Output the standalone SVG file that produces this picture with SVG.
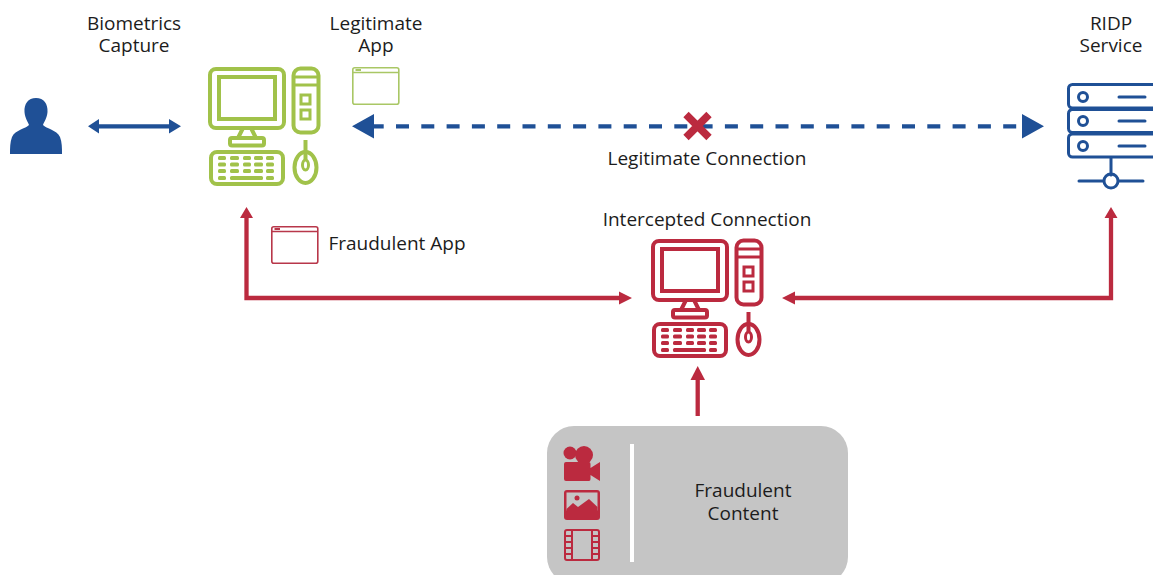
<svg xmlns="http://www.w3.org/2000/svg" xmlns:xlink="http://www.w3.org/1999/xlink" width="1153" height="575" viewBox="0 0 1153 575">
<style>
text{font-family:"Open Sans","Liberation Sans",sans-serif;font-size:19px;fill:#1c1c1c;text-anchor:middle}
.blue{stroke:#1f5096;fill:none;stroke-width:4.300}
.red{stroke:#bb2a3f;fill:none;stroke-width:4.300}
.bh{fill:#1f5096}
.rh{fill:#bb2a3f}
.o{fill:none;stroke:currentColor;stroke-width:4}
.t{fill:none;stroke:currentColor;stroke-width:3}
.n{fill:none;stroke:currentColor;stroke-width:2}
.f{fill:currentColor;stroke:none}
.w{fill:none;stroke:currentColor;stroke-width:1.600}
</style>
<defs>
<g id="computer">
<rect class="o" x="210" y="69" width="74" height="59" rx="6"/>
<rect class="o" x="219" y="77" width="56" height="42"/>
<path class="o" d="M243 128L238 138M251 128L256 138"/>
<rect class="o" x="230" y="138" width="34" height="7.500" rx="2"/>
<rect class="o" x="293.500" y="68.500" width="25" height="64" rx="7"/>
<path class="t" d="M294 77H318M294 85H318"/>
<rect class="t" x="301" y="95" width="9" height="9"/>
<rect class="t" x="301" y="110" width="9" height="9"/>
<rect class="o" x="211" y="152" width="72" height="32" rx="6"/>
<g class="f">
<rect x="218" y="156" width="8" height="4" rx="1.500"/><rect x="230" y="156" width="9" height="4" rx="1.500"/><rect x="243" y="156" width="8" height="4" rx="1.500"/><rect x="254" y="156" width="9" height="4" rx="1.500"/><rect x="266" y="156" width="8" height="4" rx="1.500"/>
<rect x="218" y="162.500" width="8" height="4" rx="1.500"/><rect x="230" y="162.500" width="9" height="4" rx="1.500"/><rect x="243" y="162.500" width="8" height="4" rx="1.500"/><rect x="254" y="162.500" width="9" height="4" rx="1.500"/><rect x="266" y="162.500" width="8" height="4" rx="1.500"/>
<rect x="218" y="169" width="8" height="4" rx="1.500"/><rect x="230" y="169" width="9" height="4" rx="1.500"/><rect x="243" y="169" width="8" height="4" rx="1.500"/><rect x="254" y="169" width="9" height="4" rx="1.500"/><rect x="266" y="169" width="8" height="4" rx="1.500"/>
<rect x="218" y="176" width="8" height="4" rx="1.500"/><rect x="230" y="176" width="33" height="4" rx="1.500"/><rect x="266" y="176" width="8" height="4" rx="1.500"/>
</g>
<ellipse class="o" cx="305.500" cy="167.500" rx="11" ry="15.500"/>
<path class="o" d="M305.500 140V159"/>
<ellipse class="t" cx="305.500" cy="165" rx="3" ry="5"/>
</g>
<g id="window">
<rect class="w" x="0.800" y="0.800" width="46" height="36.500" rx="2"/>
<path class="w" d="M1 5.500H47"/>
<path class="n" d="M3.500 3H9"/>
</g>
</defs>

<g id="connectors">
<path class="blue" d="M97 126.300H171"/>
<path class="bh" d="M88 126.300L99 119V133.500ZM181 126.300L169 119V133.500Z"/>
<path class="blue" stroke-dasharray="13 12.300" d="M370.700 126.300H1022"/>
<path class="bh" d="M352 126.300L374 114V138.500ZM1044 126.300L1022 114V138.500Z"/>
<path class="red" d="M246.500 214V298H622"/>
<path class="rh" d="M246.500 207L253 218H240ZM632 298L619 291.500V304.500Z"/>
<path class="red" d="M792 298H1111V214"/>
<path class="rh" d="M782 298L795 291.500V304.500ZM1111 207L1117.500 218H1104.500Z"/>
<path class="red" d="M697.700 416V376"/>
<path class="rh" d="M697.700 366L705 380H690.500Z"/>
</g>

<g id="person" style="color:#1f5096"><path class="f" d="M36 98C44 98 48 104 47.500 112C47 118 44 122 43 125C45 128 57 130 60 137C62 142 62 148 62 154H10C10 148 10 142 12 137C15 130 27 128 29 125C28 122 25 118 24.500 112C24 104 28 98 36 98Z"/></g>

<g id="legit-computer" style="color:#a1c24a"><use href="#computer"/></g>
<g id="legit-app" style="color:#a9c765" transform="translate(352,67)"><use href="#window"/></g>
<g id="fraud-app" style="color:#b8374a" transform="translate(271,226)"><use href="#window"/></g>
<g id="intercept-computer" style="color:#bb2a3f" transform="translate(443,172)"><use href="#computer"/></g>

<g id="ridp-service" style="color:#1f5096">
<rect class="t" x="1068.500" y="84.500" width="90" height="23.500" rx="4"/>
<rect class="t" x="1068.500" y="109.500" width="90" height="23" rx="4"/>
<rect class="t" x="1068.500" y="134" width="90" height="23" rx="4"/>
<circle class="t" cx="1083" cy="97" r="4.500"/>
<circle class="t" cx="1083" cy="121" r="4.500"/>
<circle class="t" cx="1083" cy="146" r="4.500"/>
<path class="t" stroke-linecap="round" d="M1119 97H1145M1119 121H1145M1119 146H1145M1111 158V175M1079 181H1103M1119 181H1143"/>
<circle class="t" cx="1111" cy="181" r="7"/>
</g>

<g id="cross"><path stroke="#bb2a3f" fill="none" stroke-width="7.500" d="M686 114.500L709 137.500M709 114.500L686 137.500"/></g>

<g id="fraud-content">
<rect x="547" y="426" width="301" height="158" rx="27" fill="#c5c5c5"/>
<rect x="630" y="444" width="4" height="118" fill="#fff"/>
<g style="color:#bb2a3f">
<circle class="f" cx="570" cy="453" r="6.500"/><circle class="f" cx="584" cy="455" r="9"/>
<path class="f" d="M566 462H589Q590.500 462 590.500 464V468L600 462V481L590.500 475V479Q590.500 481 589 481H566Q564 481 564 479V464Q564 462 566 462Z"/>
<rect x="564" y="490" width="36" height="30" rx="3" class="f"/>
<rect x="566.500" y="492.500" width="31" height="18" fill="#c5c5c5"/>
<path class="f" d="M566.500 509L573 503L578 507L589 499L597.500 507V512H566.500Z"/>
<circle cx="577" cy="498" r="2.500" fill="#bb2a3f"/>
<rect x="565" y="530" width="34" height="30" rx="2" class="n"/>
<path class="n" d="M572 530V560M592 530V560M565 536H572M565 542H572M565 548H572M565 554H572M592 536H599M592 542H599M592 548H599M592 554H599"/>
</g>
<text><tspan x="743" y="497">Fraudulent</tspan><tspan x="743" y="520">Content</tspan></text>
</g>

<g id="labels">
<text><tspan x="134" y="30">Biometrics</tspan><tspan x="134" y="52">Capture</tspan></text>
<text><tspan x="376" y="30">Legitimate</tspan><tspan x="376" y="52">App</tspan></text>
<text><tspan x="1111" y="30">RIDP</tspan><tspan x="1111" y="52">Service</tspan></text>
<text x="707" y="165">Legitimate Connection</text>
<text x="707" y="226">Intercepted Connection</text>
<text x="397" y="250">Fraudulent App</text>
</g>
</svg>
